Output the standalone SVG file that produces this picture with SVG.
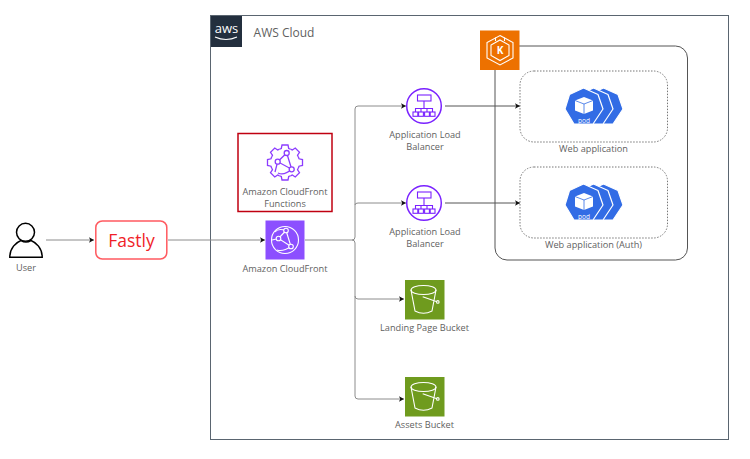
<svg xmlns="http://www.w3.org/2000/svg" width="750" height="459" viewBox="0 0 750 459">
<style>
text{font-family:"Open Sans","Noto Sans",sans-serif;font-size:9.2px;fill:#5f5f5f;text-anchor:middle}
.c{fill:none;stroke:#8c8c8c;stroke-width:1}
.w{fill:none;stroke:#fff;stroke-width:1.1}
.p{fill:none;stroke:#8c3cff;stroke-width:1.3}
.h{fill:#326ce5;stroke:#fff;stroke-width:1.2;stroke-linejoin:round}
</style>
<defs>
<marker id="a" markerWidth="6" markerHeight="6" refX="5" refY="3" orient="auto" markerUnits="userSpaceOnUse"><path d="M0 0.2L5 3L0 5.8L1.2 3Z" fill="#111"/></marker>
<path id="tooth" class="p" d="M-5.500 -13.400L-3.700 -14L-3 -17.500H3L3.700 -14L5.500 -13.400"/>
<path id="hept" class="h" d="M18.500 0L33 6.500L38 21L28 36H9L0 21L4.500 6.500Z"/>
<g id="bucket">
<rect width="39.500" height="39.500" fill="#6f9b1e"/>
<g class="w"><ellipse cx="18.500" cy="10" rx="12.500" ry="4.500"/><path d="M6 10L10 31Q18.500 35.500 27 31L31 10M17.700 16.700L32 21.700"/><circle cx="32.800" cy="21.900" r="1.300"/></g>
</g>
<g id="pod">
<use href="#hept" x="20"/>
<use href="#hept" x="10"/>
<use href="#hept"/>
<path d="M19 9L28 12.500V22.500L19 26L10 22.500V12.500Z" fill="#fff"/>
<path d="M10 12.500L19 16L28 12.500M19 16V26" fill="none" stroke="#326ce5" stroke-width="0.800"/>
<text x="19" y="34.500" style="font-size:6.500px;fill:#fff">pod</text>
</g>
<g id="alb">
<circle cx="0" cy="0" r="17.300" fill="#fff" stroke="#7a22ff" stroke-width="1.500"/>
<g fill="none" stroke="#7a22ff" stroke-width="1.100"><rect x="-6.500" y="-11" width="13.500" height="6"/><path d="M0 -5V2.500M-8.500 6V2.500H8.500V6M-3 2.500V6M3 2.500V6"/><rect x="-11" y="6" width="4.800" height="4.300"/><rect x="-5.400" y="6" width="4.800" height="4.300"/><rect x="0.600" y="6" width="4.800" height="4.300"/><rect x="6.200" y="6" width="4.800" height="4.300"/></g>
</g>
</defs>

<g id="aws-cloud">
<rect x="210.500" y="15.500" width="518" height="424" fill="#fff" stroke="#5a6570" stroke-width="1"/>
<rect x="211" y="16" width="31" height="31" fill="#232f3e"/>
<text x="226.500" y="33" style="font-size:13px;fill:#fff;font-family:'Open Sans',sans-serif">aws</text>
<path d="M215 37Q226 42 237 37" fill="none" stroke="#fff" stroke-width="1.200"/>
<text x="284" y="36.500" style="font-size:12px">AWS Cloud</text>
</g>

<g id="eks-cluster">
<rect x="495" y="46" width="192.500" height="214" rx="12" fill="#fff" stroke="#555" stroke-width="1"/>
</g>

<g id="connectors">
<path class="c" d="M46 240H94" marker-end="url(#a)"/>
<path class="c" d="M168 240H265" marker-end="url(#a)"/>
<path class="c" d="M305 240H352Q355 240 355 237V109Q355 106 358 106H406" marker-end="url(#a)"/>
<path class="c" d="M355 205Q355 203 358 203H406" marker-end="url(#a)"/>
<path class="c" d="M352 240Q355 240 355 243V396Q355 399 358 399H404" marker-end="url(#a)"/>
<path class="c" d="M355 296Q355 299 358 299H404" marker-end="url(#a)"/>
<path class="c" d="M445 106H520" marker-end="url(#a)" style="stroke:#555"/>
<path class="c" d="M445 203H520" marker-end="url(#a)" style="stroke:#555"/>
</g>

<g id="user">
<path d="M9.800 257.300C9.800 248 16 242.500 21 240.500Q26 243.500 31 240.500C36 242.500 42.200 248 42.200 257.300Z" fill="#fff" stroke="#000" stroke-width="1.500"/>
<circle cx="25.500" cy="232.300" r="9" fill="#fff" stroke="#000" stroke-width="1.500"/>
<text x="26" y="271">User</text>
</g>

<g id="fastly">
<rect x="95.800" y="221" width="71" height="38" rx="6.500" fill="#fff" stroke="#ff5a60" stroke-width="1.500"/>
<text x="131.500" y="247" style="font-size:17.500px;fill:#f01e28">Fastly</text>
</g>

<g id="cloudfront-functions">
<rect x="238" y="133.500" width="94" height="78" fill="#fff" stroke="#c00010" stroke-width="1.500"/>
<g transform="translate(285 162.500)">
<use href="#tooth"/><use href="#tooth" transform="rotate(45)"/><use href="#tooth" transform="rotate(90)"/><use href="#tooth" transform="rotate(135)"/><use href="#tooth" transform="rotate(180)"/><use href="#tooth" transform="rotate(225)"/><use href="#tooth" transform="rotate(270)"/><use href="#tooth" transform="rotate(315)"/>
</g>
<path class="p" d="M286.700 153L277.700 161.700L291.700 169.300M286.700 153L291.700 169.300M291.700 169.300Q284 176 278 173M277.700 161.700L275 172"/>
<g fill="#fff" stroke="#8c3cff" stroke-width="1.300"><circle cx="286.700" cy="153" r="2.500"/><circle cx="277.700" cy="161.700" r="2.500"/><circle cx="291.700" cy="169.300" r="2.500"/></g>
<text x="285" y="194.500">Amazon CloudFront</text>
<text x="285" y="207">Functions</text>
</g>

<g id="cloudfront">
<rect x="265.500" y="220.500" width="39" height="39" fill="#8c4fff"/>
<g class="w"><circle cx="285" cy="240" r="13.500"/><path d="M286 230.500L278.500 238.500L291 246.500M286 230.500L291 246.500M291 246.500Q283 252 277 250M278.500 238.500L272 240M286 230.500Q278 228 275 232"/></g>
<g fill="#8c4fff" stroke="#fff" stroke-width="1.100"><circle cx="286" cy="230.500" r="2.300"/><circle cx="278.500" cy="238.500" r="2.300"/><circle cx="291" cy="246.500" r="2.300"/></g>
<text x="285" y="271.500">Amazon CloudFront</text>
</g>

<g id="alb-1">
<use href="#alb" x="424" y="106"/>
<text x="425" y="137.500">Application Load</text>
<text x="425" y="150">Balancer</text>
</g>

<g id="alb-2">
<use href="#alb" x="424" y="203"/>
<text x="425" y="234.500">Application Load</text>
<text x="425" y="247">Balancer</text>
</g>

<g id="landing-bucket">
<use href="#bucket" x="405" y="280"/>
<text x="424.500" y="331">Landing Page Bucket</text>
</g>

<g id="assets-bucket">
<use href="#bucket" x="405" y="377"/>
<text x="424.500" y="428">Assets Bucket</text>
</g>

<g id="eks">
<rect x="480" y="30.500" width="39.500" height="39.500" fill="#ed7100"/>
<g class="w"><path d="M500 35.500L513 42.500V58L500 65L487 58V42.500Z"/><path d="M500 40L509 45V55.500L500 60.500L491 55.500V45Z"/><path d="M495.500 37.500V41M504.500 37.500V41"/></g>
<text x="500" y="54" style="font-size:10px;font-weight:700;fill:#fff">K</text>
</g>

<g id="web-app">
<rect x="520" y="71" width="147.500" height="71" rx="14" fill="#fff" stroke="#777" stroke-width="1" stroke-dasharray="1.500 1.500"/>
<use href="#pod" x="565" y="88"/>
<text x="593.500" y="152">Web application</text>
</g>

<g id="web-app-auth">
<rect x="520" y="167" width="147.500" height="71" rx="14" fill="#fff" stroke="#777" stroke-width="1" stroke-dasharray="1.500 1.500"/>
<use href="#pod" x="565" y="184"/>
<text x="593.500" y="248">Web application (Auth)</text>
</g>
</svg>
